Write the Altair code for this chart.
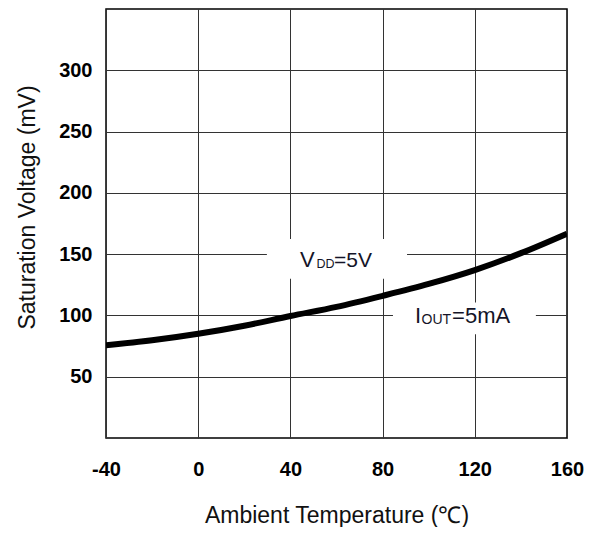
import altair as alt
import pandas as pd

# Curve: saturation voltage vs ambient temperature
temps = [-40, -20, 0, 20, 40, 60, 80, 100, 120, 140, 160]
volts = [75.7, 79.7, 85.0, 91.6, 99.5, 107.0, 116.0, 125.7, 137.0, 150.8, 166.7]

x_ticks = [-40, 0, 40, 80, 120, 160]
y_ticks = [50, 100, 150, 200, 250, 300]

# White label boxes (data units)
box_x1 = [29.8, 84.5]
box_x2 = [90.6, 146.5]
box_y1 = [130.0, 84.6]
box_y2 = [162.4, 110.5]

# Annotation anchors (data units)
ann_names = ["VDD", "IOUT"]
ann_x = [44.2, 94.1]
ann_y = [139.7, 94.1]
ann_main = ["V", "I"]
ann_sub = ["DD", "OUT"]
ann_rest = ["=5V", "=5mA"]

FONT = "Liberation Sans"

curve = pd.DataFrame({"t": temps, "v": volts})
boxes = pd.DataFrame({"x1": box_x1, "x2": box_x2, "y1": box_y1, "y2": box_y2})
ann = pd.DataFrame({"name": ann_names, "x": ann_x, "y": ann_y,
                    "main": ann_main, "sub": ann_sub, "rest": ann_rest})

xscale = alt.Scale(domain=[-40, 160], nice=False, zero=False)
yscale = alt.Scale(domain=[0, 350], nice=False, zero=False)

xaxis = alt.Axis(values=x_ticks, grid=True, ticks=False, tickSize=0, domain=False,
                 labelFlush=False, labelFont=FONT, labelFontSize=20, labelFontWeight="bold",
                 labelColor="#000", labelPadding=21, labelExpr="'' + datum.value",
                 title="Ambient Temperature (℃)",
                 titleFont=FONT, titleFontSize=23, titleFontWeight="normal",
                 titleColor="#111", titlePadding=25, gridColor="#333", gridWidth=1)
yaxis = alt.Axis(values=y_ticks, grid=True, ticks=False, tickSize=0, domain=False,
                 labelFlush=False, labelFont=FONT, labelFontSize=20, labelFontWeight="bold",
                 labelColor="#000", labelPadding=14, labelExpr="'' + datum.value",
                 title="Saturation Voltage (mV)",
                 titleFont=FONT, titleFontSize=23, titleFontWeight="normal",
                 titleColor="#111", titleX=-79, titleY=198, titleAngle=270,
                 titleAlign="center", titleBaseline="middle",
                 gridColor="#333", gridWidth=1)

rects = alt.Chart(boxes).mark_rect(fill="white").encode(
    x=alt.X("x1:Q", scale=xscale, axis=xaxis),
    x2="x2:Q",
    y=alt.Y("y1:Q", scale=yscale, axis=yaxis),
    y2="y2:Q",
)

line = alt.Chart(curve).mark_line(color="#000", strokeWidth=6, interpolate="monotone",
                                  clip=True, strokeCap="butt").encode(
    x=alt.X("t:Q", scale=xscale),
    y=alt.Y("v:Q", scale=yscale),
)

vdd = ann[ann.name == "VDD"]
iout = ann[ann.name == "IOUT"]

def piece(df, field, size, dx, dy=0):
    return alt.Chart(df).mark_text(align="left", baseline="alphabetic", font=FONT,
                                   fontSize=size, color="#141428", dx=dx, dy=dy).encode(
        x=alt.X("x:Q", scale=xscale),
        y=alt.Y("y:Q", scale=yscale),
        text=f"{field}:N",
    )

texts = [
    piece(vdd, "main", 22, 0),
    piece(vdd, "sub", 12.5, 16.5, 1),
    piece(vdd, "rest", 21, 34),
    piece(iout, "main", 22, 0),
    piece(iout, "sub", 14, 6.5, 1),
    piece(iout, "rest", 22, 37),
]

chart = alt.layer(rects, line, *texts).properties(
    width=461, height=429,
    padding={"left": 98, "top": 1, "right": 19, "bottom": 89},
    autosize=alt.AutoSizeParams(type="none"),
).configure_view(stroke="#000", strokeWidth=1.5)

chart.save("out.html", embed_options={"renderer": "svg", "actions": False})
